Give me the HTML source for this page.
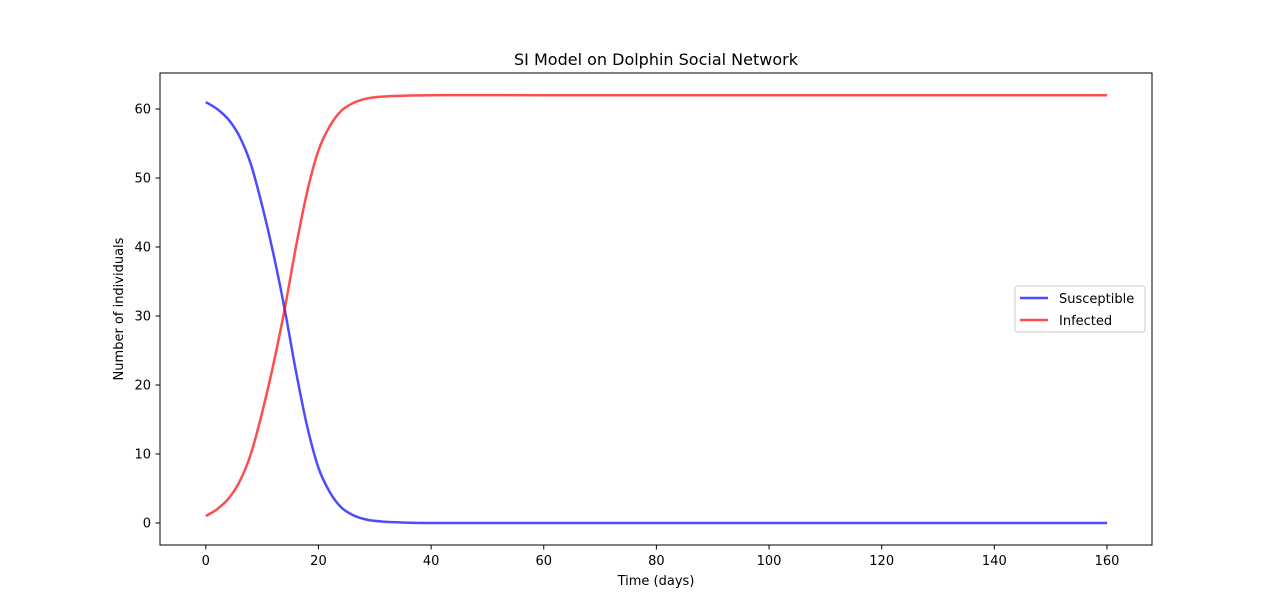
<!DOCTYPE html>
<html><head><meta charset="utf-8">
<style>
html,body{margin:0;padding:0;background:#fff;}
svg{display:block;font-family:"DejaVu Sans","Liberation Sans",sans-serif;}
</style></head>
<body>
<svg id="chart" width="1280" height="612" xmlns="http://www.w3.org/2000/svg">
<text x="656" y="65" font-size="16" text-anchor="middle">SI Model on Dolphin Social Network</text>
<g id="plot"></g>
<rect x="160" y="73" width="992" height="472" fill="none" stroke="#000" stroke-width="1"/>
<text x="656" y="585" font-size="13" text-anchor="middle">Time (days)</text>
<text transform="translate(123,309) rotate(-90)" font-size="13" text-anchor="middle">Number of individuals</text>
<g>
<rect x="1015" y="286" width="130" height="46" rx="3" fill="#fff" stroke="#ccc"/>
<line x1="1020" y1="298" x2="1048" y2="298" stroke="#0000ff" stroke-opacity="0.7" stroke-width="2.5"/>
<text x="1059" y="303" font-size="13">Susceptible</text>
<line x1="1020" y1="320" x2="1048" y2="320" stroke="#ff0000" stroke-opacity="0.7" stroke-width="2.5"/>
<text x="1059" y="325" font-size="13">Infected</text>
</g>
</svg>
<script>
const times = [0,2,4,6,8,10,12,14,16,18,20,22,24,26,28,30,34,40,60,160];
const infected = [1,2,3.5,6,10,16,23,31,40,48,54,57.5,59.7,60.8,61.4,61.7,61.9,62,62,62];
const susceptible = [61,60,58.5,56,52,46,39,31,22,14,8,4.5,2.3,1.2,0.6,0.3,0.1,0,0,0];
const xTicks = [0,20,40,60,80,100,120,140,160];
const yTicks = [0,10,20,30,40,50,60];

const X = v => 205.8 + (v) * (1107 - 205.8) / 160;
const Y = v => 523 - v * (523 - 109) / 60;
const ns = "http://www.w3.org/2000/svg";
const g = document.getElementById('plot');

function mk(tag, attrs){const e=document.createElementNS(ns,tag);for(const k in attrs)e.setAttribute(k,attrs[k]);return e;}

xTicks.forEach(t=>{
  const l=mk('line',{x1:X(t),x2:X(t),y1:545,y2:549.5,stroke:'#000'});
  
  
  g.appendChild(l);
  const tx=mk('text',{x:X(t),y:565,'font-size':13,'text-anchor':'middle'});
  tx.textContent=t;
  
  
  g.appendChild(tx);
});
yTicks.forEach(t=>{
  const l=mk('line',{x1:155.5,x2:160,y1:Y(t),y2:Y(t),stroke:'#000'});
  
  
  g.appendChild(l);
  const tx=mk('text',{x:151,y:Y(t)+4.5,'font-size':13,'text-anchor':'end'});
  tx.textContent=t;
  
  
  g.appendChild(tx);
});

function pathFor(vals){
  // Catmull-Rom smoothing through data points
  const p=times.map((t,i)=>[X(t),Y(vals[i])]);
  let d=`M${p[0][0]},${p[0][1]}`;
  for(let i=0;i<p.length-1;i++){
    const p0=p[i-1]||p[i],p1=p[i],p2=p[i+1],p3=p[i+2]||p2;
    const c1=[p1[0]+(p2[0]-p0[0])/6,p1[1]+(p2[1]-p0[1])/6];
    const c2=[p2[0]-(p3[0]-p1[0])/6,p2[1]-(p3[1]-p1[1])/6];
    d+=` C${c1[0]},${c1[1]} ${c2[0]},${c2[1]} ${p2[0]},${p2[1]}`;
  }
  return d;
}
const s=mk('path',{d:pathFor(susceptible),fill:'none',stroke:'#0000ff','stroke-opacity':0.7,'stroke-width':2.5});


g.appendChild(s);
const inf=mk('path',{d:pathFor(infected),fill:'none',stroke:'#ff0000','stroke-opacity':0.7,'stroke-width':2.5});


g.appendChild(inf);
</script>
</body></html>
